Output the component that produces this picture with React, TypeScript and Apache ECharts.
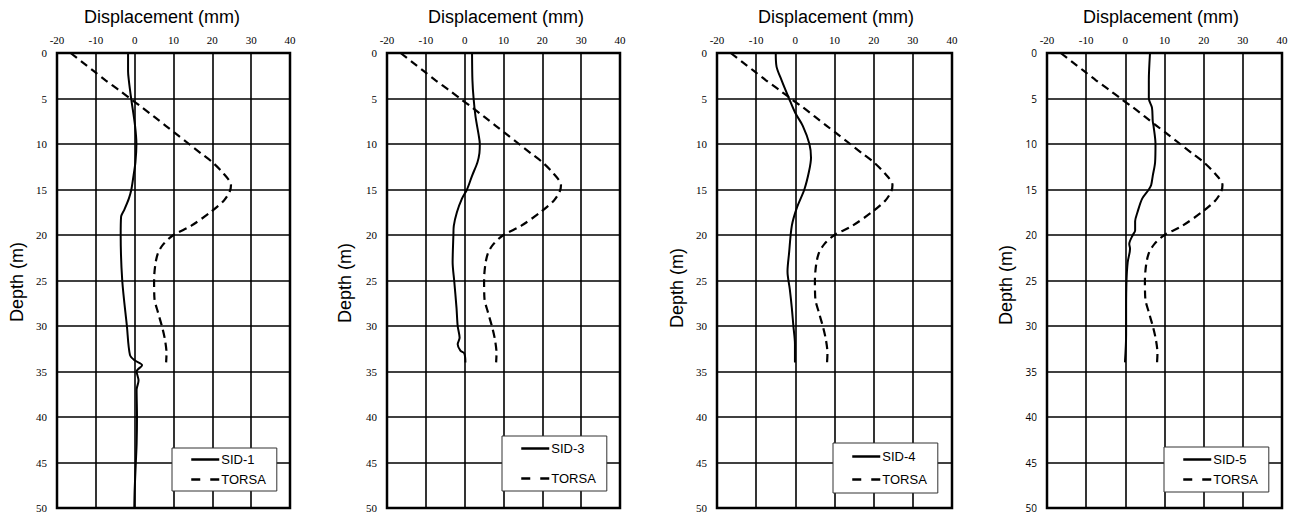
import React, { useEffect, useRef } from "react";
import * as echarts from "echarts";

const xTicks = [-20, 40];
const depthMax = 50;

const torsaDepth = [0, 1, 2, 3, 4, 5, 6, 7, 8, 9, 10, 11, 12, 13.3, 14.5, 15.2, 16.2, 17.5, 19, 20, 21, 22, 23.3, 25, 27, 28.5, 30, 31.5, 33, 34];
const torsaDisp = [-16.5, -13.5, -10.5, -7.5, -4.3, -1.2, 2, 5, 8, 11, 14, 17, 20, 23, 24.8, 24.5, 23, 19.5, 14.5, 10, 7.4, 6, 5.3, 5, 5.1, 6, 7, 7.8, 8.2, 8.1];

const sid1Depth = [0, 2, 3, 5, 8, 10, 12, 13.5, 15, 16, 17.2, 18, 20, 25, 30, 33.2, 33.8, 34.3, 35, 36, 37, 40, 43, 45, 48, 50];
const sid1Disp = [-1.7, -1.7, -1.5, -0.9, 0.1, 0.45, 0.2, -0.3, -0.85, -1.5, -2.65, -3.5, -3.6, -3.2, -2.0, -1.2, 0.1, 1.9, 0.5, 1.0, 0.5, 0.6, 0.5, 0.3, 0, -0.1];

const sid3Depth = [0, 3, 5, 7, 9, 10, 11, 12, 13.5, 15, 16, 17.5, 19, 20, 23, 25, 28, 30, 31.3, 32, 32.7, 33, 34];
const sid3Disp = [1.9, 2.0, 2.3, 2.8, 3.6, 3.9, 3.8, 3.3, 1.9, 0.6, -0.7, -2.0, -2.8, -2.9, -3.1, -2.7, -2.1, -1.8, -1.3, -1.8, -1.1, -0.1, 0.2];

const sid4Depth = [0, 1.5, 3, 5, 6.6, 8, 10, 11.5, 13, 15, 17, 19, 22, 24, 26, 28, 30, 32, 34];
const sid4Disp = [-5.0, -4.8, -3.5, -1.6, 0, 1.9, 3.6, 4.0, 3.5, 2.3, 0.4, -0.9, -1.6, -2.0, -1.4, -0.9, -0.5, -0.1, -0.1];

const sid5Depth = [0, 3, 5, 6, 7.5, 8, 10, 12, 13.5, 14.5, 15, 16, 17.5, 18.5, 19.5, 20, 21, 21.5, 23, 25, 28, 31, 34];
const sid5Disp = [6.3, 6.0, 6.0, 6.8, 7.0, 7.2, 7.7, 7.6, 7.0, 6.6, 6.0, 4.3, 3.1, 2.5, 2.5, 1.9, 1.0, 1.2, 0.6, 0.3, 0.2, 0.2, -0.1];

const sidNames = ["SID-1", "SID-3", "SID-4", "SID-5"];
const sidDepths = [sid1Depth, sid3Depth, sid4Depth, sid5Depth];
const sidDisps = [sid1Disp, sid3Disp, sid4Disp, sid5Disp];

const xTitle = "Displacement (mm)";
const yTitle = "Depth (m)";

// layout
const gridLeft = [57, 387, 717, 1047];
const gridWidth = [233, 233, 235, 235];
const titleX = [162, 506, 836, 1161];
const depthLabelX = [17, 345, 677, 1006];
const depthLabelY = [282, 283, 288, 285];
const legendPos = [
  { left: 172, top: 448, gap: 7, pt: 5 },
  { left: 502, top: 436, gap: 17, pt: 6 },
  { left: 833, top: 443, gap: 10, pt: 7 },
  { left: 1164, top: 447, gap: 7, pt: 6 },
];

const zip = (xs: number[], ys: number[]) => xs.map((x, i) => [x, ys[i]]);

export default function App() {
  const ref = useRef<HTMLDivElement>(null);
  useEffect(() => {
    if (!ref.current) return;
    const chart = echarts.init(ref.current, null, { renderer: "svg" });
    const grids = gridLeft.map((l, i) => ({
      left: l,
      top: 53,
      width: gridWidth[i],
      height: 455,
      show: true,
      borderColor: "#000",
      borderWidth: 2.5,
      backgroundColor: "transparent",
    }));
    const xAxes = gridLeft.map((_, i) => ({
      type: "value",
      gridIndex: i,
      position: "top",
      min: xTicks[0],
      max: xTicks[1],
      interval: 10,
      axisLine: { show: false },
      axisTick: { show: false },
      axisLabel: {
        color: "#000",
        fontFamily: "Liberation Serif",
        fontSize: 11,
        margin: 8,
      },
      splitLine: { show: true, lineStyle: { color: "#000", width: 1.6 } },
    }));
    const yAxes = gridLeft.map((_, i) => ({
      type: "value",
      gridIndex: i,
      inverse: true,
      min: 0,
      max: depthMax,
      interval: 5,
      axisLine: { show: false },
      axisTick: { show: false },
      axisLabel: {
        color: "#000",
        fontFamily: i === 3 ? "Open Sans" : "Liberation Serif",
        fontSize: i === 3 ? 10 : 11,
        margin: 10,
      },
      splitLine: { show: true, lineStyle: { color: "#000", width: 1.6 } },
    }));
    const series: any[] = [];
    sidNames.forEach((name, i) => {
      series.push({
        type: "line",
        name,
        xAxisIndex: i,
        yAxisIndex: i,
        data: zip(sidDisps[i], sidDepths[i]),
        symbol: "none",
        smooth: 0.3,
        lineStyle: { color: "#000", width: 2, type: "solid" },
        itemStyle: { color: "#000" },
      });
      series.push({
        type: "line",
        name: "TORSA",
        xAxisIndex: i,
        yAxisIndex: i,
        data: zip(torsaDisp, torsaDepth),
        symbol: "none",
        smooth: 0.3,
        lineStyle: { color: "#000", width: 2.2, type: [8, 5] },
        itemStyle: { color: "#000" },
      });
    });
    const legends = sidNames.map((name, i) => ({
      data: [
        { name },
        { name: "TORSA", lineStyle: { type: [9, 10], width: 2.5 } },
      ],
      orient: "vertical",
      left: legendPos[i].left,
      top: legendPos[i].top,
      itemWidth: 28,
      itemHeight: 14,
      itemGap: legendPos[i].gap,
      padding: [legendPos[i].pt, 11, legendPos[i].pt, 18],
      backgroundColor: "#fff",
      borderColor: "#333",
      borderWidth: 1,
      selectedMode: false,
      itemStyle: { opacity: 0 },
      lineStyle: { width: 2.5 },
      textStyle: {
        color: "#000",
        fontFamily: "Liberation Sans",
        fontSize: 13,
        padding: [0, 0, 0, -3],
      },
    }));
    const graphics: any[] = [];
    titleX.forEach((x) => {
      graphics.push({
        type: "text",
        x,
        y: 17,
        style: {
          text: xTitle,
          fill: "#000",
          font: "18px 'Liberation Sans'",
          textAlign: "center",
          textVerticalAlign: "middle",
        },
      });
    });
    depthLabelX.forEach((x, i) => {
      graphics.push({
        type: "text",
        x,
        y: depthLabelY[i],
        rotation: Math.PI / 2,
        style: {
          text: yTitle,
          fill: "#000",
          font: "18px 'Liberation Sans'",
          textAlign: "center",
          textVerticalAlign: "middle",
        },
      });
    });
    chart.setOption({
      animation: false,
      backgroundColor: "#fff",
      grid: grids,
      xAxis: xAxes,
      yAxis: yAxes,
      legend: legends,
      series,
      graphic: graphics,
    });
    return () => chart.dispose();
  }, []);
  return (
    <div
      ref={ref}
      style={{ position: "fixed", left: 0, top: 0, width: 1295, height: 515 }}
    />
  );
}
